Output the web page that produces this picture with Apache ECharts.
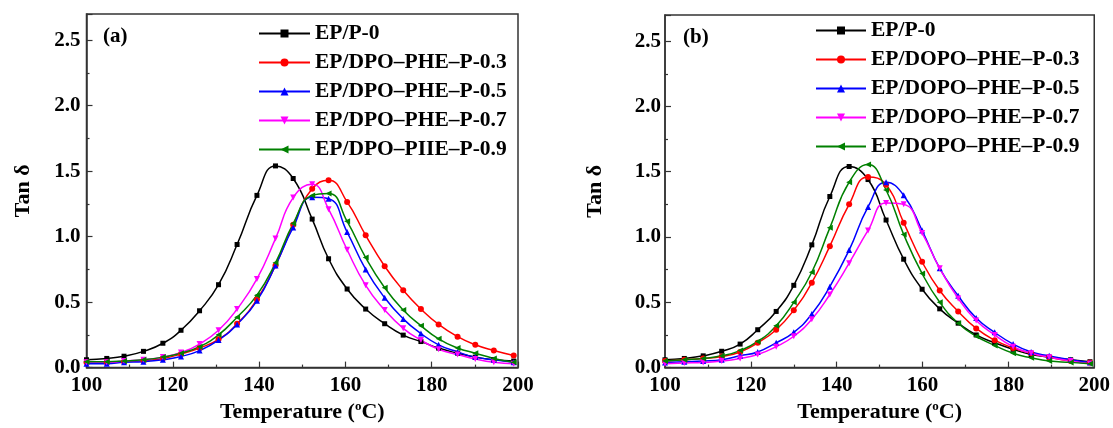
<!DOCTYPE html>
<html>
<head>
<meta charset="utf-8">
<script src="https://cdn.jsdelivr.net/npm/echarts@6/dist/echarts.min.js"></script>
<style>
  html, body { margin: 0; padding: 0; background: #fff; }
  #chart { width: 1113px; height: 428px; }
</style>
</head>
<body>
<div id="chart"></div>
<script>
// temperatures (°C) at the plotted markers
const TEMP_A = [100, 104.7, 108.7, 113.2, 117.7, 121.9, 126.2, 130.6, 134.9, 139.5, 143.8, 147.9,
  152.3, 156.1, 160.4, 164.7, 169.1, 173.4, 177.5, 181.6, 186, 190.1, 194.4, 199]
const TEMP_B = [100, 104.5, 108.9, 113.2, 117.5, 121.6, 125.9, 130, 134.2, 138.4, 142.9, 147.3,
  151.5, 155.6, 159.9, 164, 168.3, 172.5, 176.8, 181.1, 185.3, 189.5, 194.5, 199]

// panel (a) tan delta
const A_P0 = [0.06, 0.07, 0.087, 0.124, 0.186, 0.285, 0.434, 0.633, 0.94, 1.315, 1.54, 1.444,
  1.134, 0.831, 0.6, 0.447, 0.335, 0.248, 0.199, 0.149, 0.11, 0.08, 0.06, 0.05]
const A_P03 = [0.04, 0.04, 0.045, 0.055, 0.07, 0.104, 0.15, 0.216, 0.335, 0.52, 0.78, 1.09,
  1.365, 1.43, 1.265, 1.01, 0.774, 0.59, 0.447, 0.33, 0.236, 0.174, 0.13, 0.092]
const A_P05 = [0.03, 0.03, 0.04, 0.045, 0.06, 0.085, 0.13, 0.21, 0.33, 0.51, 0.78, 1.07,
  1.3, 1.29, 1.035, 0.75, 0.533, 0.372, 0.26, 0.174, 0.12, 0.08, 0.06, 0.04]
const A_P07 = [0.04, 0.04, 0.05, 0.06, 0.08, 0.115, 0.18, 0.285, 0.447, 0.677, 0.985, 1.298,
  1.4, 1.21, 0.9, 0.628, 0.44, 0.3, 0.21, 0.14, 0.1, 0.065, 0.04, 0.03]
const A_P09 = [0.045, 0.045, 0.05, 0.06, 0.08, 0.11, 0.16, 0.25, 0.385, 0.553, 0.8, 1.1,
  1.315, 1.33, 1.117, 0.84, 0.61, 0.44, 0.32, 0.22, 0.15, 0.11, 0.07, 0.04]

// panel (b) tan delta
const B_P0 = [0.06, 0.07, 0.09, 0.125, 0.18, 0.29, 0.43, 0.63, 0.94, 1.31, 1.54, 1.44,
  1.13, 0.83, 0.6, 0.45, 0.34, 0.25, 0.19, 0.14, 0.1, 0.08, 0.06, 0.045]
const B_P03 = [0.05, 0.06, 0.07, 0.085, 0.12, 0.19, 0.29, 0.44, 0.65, 0.93, 1.25, 1.46,
  1.4, 1.11, 0.81, 0.59, 0.43, 0.3, 0.21, 0.15, 0.11, 0.08, 0.05, 0.04]
const B_P05 = [0.04, 0.045, 0.05, 0.06, 0.09, 0.12, 0.19, 0.27, 0.41, 0.62, 0.9, 1.23,
  1.42, 1.32, 1.05, 0.76, 0.55, 0.38, 0.27, 0.18, 0.12, 0.09, 0.06, 0.04]
const B_P07 = [0.03, 0.035, 0.04, 0.05, 0.07, 0.1, 0.16, 0.24, 0.37, 0.56, 0.8, 1.05,
  1.26, 1.25, 1.03, 0.76, 0.53, 0.36, 0.25, 0.16, 0.11, 0.08, 0.05, 0.03]
const B_P09 = [0.05, 0.06, 0.07, 0.09, 0.13, 0.2, 0.32, 0.5, 0.73, 1.07, 1.42, 1.555,
  1.36, 1.02, 0.72, 0.5, 0.34, 0.24, 0.17, 0.11, 0.075, 0.05, 0.04, 0.03]

const NAMES_A = ['EP/P-0', 'EP/DPO\u2013PHE\u2013P-0.3', 'EP/DPO\u2013PHE\u2013P-0.5', 'EP/DPO\u2013PHE\u2013P-0.7', 'EP/DPO\u2013PIIE\u2013P-0.9']
const NAMES_B = ['EP/P-0 ', 'EP/DOPO\u2013PHE\u2013P-0.3', 'EP/DOPO\u2013PHE\u2013P-0.5', 'EP/DOPO\u2013PHE\u2013P-0.7', 'EP/DOPO\u2013PHE\u2013P-0.9']

const COLORS = ['#000000', '#ff0000', '#0000ff', '#ff00ff', '#008000']
const SYMBOLS = ['rect', 'circle', 'triangle', 'triangle', 'triangle']
const ROTATES = [0, 0, 0, 180, 90]

const FONT = 'Liberation Serif'
const AXIS_COLOR = '#333'

const pairs = (xs, ys) => xs.map((x, i) => [x, ys[i]])

function makeSeries (names, temps, sets, idx) {
  return sets.map((ys, i) => ({
    name: names[i],
    type: 'line',
    xAxisIndex: idx,
    yAxisIndex: idx,
    data: pairs(temps, ys),
    smooth: 0.5,
    symbol: SYMBOLS[i],
    symbolRotate: ROTATES[i],
    symbolSize: SYMBOLS[i] === 'rect' ? 5 : 6,
    color: COLORS[i],
    lineStyle: { width: 1.5, color: COLORS[i] },
    itemStyle: { color: COLORS[i] },
    animation: false
  }))
}

function xAxis (idx, gap) {
  return {
    type: 'value',
    gridIndex: idx,
    min: 100,
    max: 200,
    interval: 20,
    name: 'Temperature ({sup|o}C)',
    nameLocation: 'middle',
    nameGap: gap,
    nameTextStyle: {
      fontFamily: FONT, fontWeight: 'bold', fontSize: 22, color: '#000',
      rich: { sup: { fontFamily: FONT, fontWeight: 'bold', fontSize: 13, color: '#000', verticalAlign: 'top', padding: [0, 0, 10, 0] } }
    },
    axisLine: { show: true, lineStyle: { color: AXIS_COLOR, width: 1.5 } },
    axisTick: { show: true, inside: true, length: 6, lineStyle: { color: AXIS_COLOR, width: 1.2 } },
    minorTick: { show: true, splitNumber: 2, length: 3, lineStyle: { color: AXIS_COLOR, width: 1.2 } },
    axisLabel: { fontFamily: FONT, fontWeight: 'bold', fontSize: 21, color: '#000', margin: 7 },
    splitLine: { show: false }
  }
}

function yAxis (idx, gap, margin) {
  return {
    type: 'value',
    gridIndex: idx,
    min: 0,
    max: 2.7,
    interval: 0.5,
    name: 'Tan \u03b4',
    nameLocation: 'middle',
    nameGap: gap,
    nameTextStyle: { fontFamily: FONT, fontWeight: 'bold', fontSize: 22, color: '#000' },
    axisLine: { show: true, lineStyle: { color: AXIS_COLOR, width: 1.5 } },
    axisTick: { show: true, inside: true, length: 6, lineStyle: { color: AXIS_COLOR, width: 1.2 } },
    minorTick: { show: true, splitNumber: 2, length: 3, lineStyle: { color: AXIS_COLOR, width: 1.2 } },
    axisLabel: {
      fontFamily: FONT, fontWeight: 'bold', fontSize: 21, color: '#000', margin: margin,
      showMaxLabel: false,
      formatter: v => v.toFixed(1)
    },
    splitLine: { show: false }
  }
}

function legend (names, left, top, width) {
  return {
    orient: 'vertical',
    left: left,
    top: top,
    padding: 0,
    itemWidth: width,
    itemHeight: 10,
    itemGap: 7,
    data: names,
    selectedMode: false,
    textStyle: { fontFamily: FONT, fontWeight: 'bold', fontSize: 21.5, color: '#000', lineHeight: 21 }
  }
}

const chart = echarts.init(document.getElementById('chart'), null, { renderer: 'canvas' })

chart.setOption({
  backgroundColor: '#fff',
  animation: false,
  grid: [
    { left: 86.5, top: 14, width: 431.5, height: 364, show: true, borderColor: AXIS_COLOR, borderWidth: 1.5 },
    { left: 665, top: 15, width: 430, height: 360, show: true, borderColor: AXIS_COLOR, borderWidth: 1.5 }
  ],
  xAxis: [xAxis(0, 28), xAxis(1, 31)],
  yAxis: [yAxis(0, 52, 6), yAxis(1, 59, 4)],
  legend: [
    legend(NAMES_A, 258, 22.5, 51),
    legend(NAMES_B, 815, 19.5, 50)
  ],
  graphic: [
    { type: 'text', left: 103, top: 26, style: { text: '(a)', font: 'bold 21px "Liberation Serif"', fill: '#000' } },
    { type: 'text', left: 683, top: 27, style: { text: '(b)', font: 'bold 21px "Liberation Serif"', fill: '#000' } }
  ],
  series: [
    ...makeSeries(NAMES_A, TEMP_A, [A_P0, A_P03, A_P05, A_P07, A_P09], 0),
    ...makeSeries(NAMES_B, TEMP_B, [B_P0, B_P03, B_P05, B_P07, B_P09], 1)
  ]
})
</script>
</body>
</html>
